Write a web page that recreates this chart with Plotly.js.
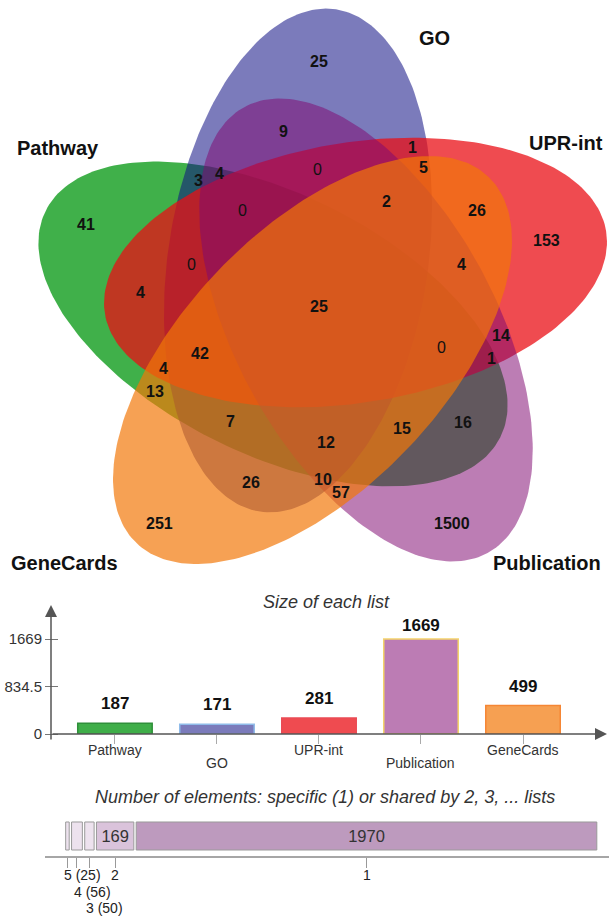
<!DOCTYPE html>
<html><head><meta charset="utf-8">
<script src="https://cdn.plot.ly/plotly-3.0.1.min.js"></script>
<style>html,body{margin:0;padding:0;background:#fff}#chart{width:609px;height:918px}</style>
</head><body><div id="chart"></div>
<script>
// ---------------- data ----------------
const listNames = ['Pathway', 'GO', 'UPR-int', 'Publication', 'GeneCards'];
const listSizes = [187, 171, 281, 1669, 499];
const regionCounts = [25, 9, 1, 0, 5, 3, 4, 0, 2, 26, 153, 41, 0, 4, 4, 25, 14, 0, 42, 1, 4, 13, 7, 16, 15, 12, 26, 10, 57, 251, 1500];
const sharedLevels = [5, 4, 3, 2, 1];
const sharedCounts = [25, 56, 50, 169, 1970];

// ---------------- geometry / style (venn panel pixel space) ----------------
const regionX = [319, 283, 412, 317, 423, 198, 219, 242, 386, 477, 546, 86, 191, 461, 140, 319, 501, 441, 200, 491, 163, 155, 230, 463, 402, 326, 251, 323, 341, 159, 452];
const regionY = [61, 131, 147, 169, 167, 180, 173, 210, 201, 210, 240, 224, 264, 264, 292, 306, 335, 347, 353, 358, 368, 391, 421, 422, 428, 442, 482, 479, 492, 523, 523];
const ellCx = [273, 298, 355.5, 366, 312.5];
const ellCy = [324, 260.5, 272.5, 330, 360];
const ellAngle = [26.5, -81.4, -9.4, 61.4, -46.1];
const ellA = 254, ellB = 130;
const setLabelX = [58, 434, 566, 547, 64];
const setLabelY = [148, 38, 143, 563, 563];
const vennFill = ['rgba(64,176,74,1)', 'rgba(15,15,131,0.55)', 'rgba(233,15,21,0.75)', 'rgba(128,9,113,0.53)', 'rgba(242,119,7,0.69)'];
const barFill = ['#3fae49', '#7b7bbb', '#ef4b50', '#bc7cb4', '#f6a052'];
const barEdge = ['#2f8f3a', '#8fbbe9', '#ea4b54', '#f3d36b', '#f58634'];
const sharedFill = ['#ede2ee', '#ede2ee', '#ede2ee', '#dac3db', '#bd9abe'];

const W = 609, H = 918;
const FONT = 'Liberation Sans, Arial, sans-serif';
const px = x => x / W;
const py = y => 1 - y / H;

const traces = [];
// ellipses
for (let i = 0; i < 5; i++) {
  const xs = [], ys = [];
  const th = ellAngle[i] * Math.PI / 180;
  for (let k = 0; k <= 240; k++) {
    const t = 2 * Math.PI * k / 240;
    const u = ellA * Math.cos(t), v = ellB * Math.sin(t);
    xs.push(ellCx[i] + u * Math.cos(th) - v * Math.sin(th));
    ys.push(ellCy[i] + u * Math.sin(th) + v * Math.cos(th));
  }
  traces.push({type: 'scatter', mode: 'lines', x: xs, y: ys, fill: 'toself',
    fillcolor: vennFill[i], line: {width: 0, color: 'rgba(0,0,0,0)'}, hoverinfo: 'skip',
    xaxis: 'x', yaxis: 'y'});
}

// size of each list
const catIdx = listNames.map((_, i) => i);
traces.push({type: 'bar', x: catIdx, y: listSizes, width: 0.73,
  marker: {color: barFill, line: {color: barEdge, width: 1.5}},
  xaxis: 'x2', yaxis: 'y2', hoverinfo: 'skip'});

// shared elements stacked bar
const starts = [];
let acc = 0;
sharedCounts.forEach(c => { starts.push(acc); acc += c; });
const total = acc;
const gap = 10;
const centers = sharedCounts.map((c, i) => starts[i] + c / 2);
traces.push({type: 'bar', orientation: 'h', y: sharedCounts.map(() => 0),
  x: sharedCounts.map(c => c - gap), base: starts.map(s => s + gap / 2), width: 0.667,
  marker: {color: sharedFill, line: {color: '#9a9a9a', width: 1}},
  text: sharedCounts.map(c => c > 100 ? String(c) : ''), textposition: 'inside',
  insidetextanchor: 'middle', textfont: {family: FONT, size: 16.5, color: '#333'},
  xaxis: 'x3', yaxis: 'y3', hoverinfo: 'skip'});

const ann = [];
const txt = (o) => Object.assign({showarrow: false, xanchor: 'center', yanchor: 'middle'}, o);
// venn counts
regionCounts.forEach((c, i) => {
  ann.push(txt({xref: 'x', yref: 'y', x: regionX[i], y: regionY[i],
    text: c === 0 ? '0' : '<b>' + c + '</b>', font: {family: FONT, size: 16, color: '#111'}}));
});
listNames.forEach((n, i) => {
  ann.push(txt({xref: 'x', yref: 'y', x: setLabelX[i], y: setLabelY[i],
    text: '<b>' + n + '</b>', font: {family: FONT, size: 20, color: '#111'}}));
});
// bar values
const maxSize = Math.max(...listSizes);
listSizes.forEach((v, i) => {
  ann.push(txt({xref: 'x2', yref: 'y2', x: i, y: v, yanchor: 'bottom', yshift: v === maxSize ? 2 : 8,
    text: '<b>' + v + '</b>', font: {family: FONT, size: 17, color: '#111'}}));
});
// category labels (staggered)
listNames.forEach((n, i) => {
  ann.push(txt({xref: 'x2', yref: 'paper', x: i, y: py(i % 2 === 1 ? 763 : 750),
    text: n, font: {family: FONT, size: 14, color: '#333'}}));
});
// titles
ann.push(txt({xref: 'paper', yref: 'paper', x: px(326), y: py(602),
  text: '<i>Size of each list</i>', font: {family: FONT, size: 18, color: '#333'}}));
ann.push(txt({xref: 'paper', yref: 'paper', x: px(325), y: py(797),
  text: '<i>Number of elements: specific (1) or shared by 2, 3, ... lists</i>', font: {family: FONT, size: 18, color: '#333'}}));
// axis arrows
ann.push({xref: 'paper', yref: 'paper', x: px(51), y: py(605), ax: 0, ay: 136, text: '', showarrow: true,
  arrowhead: 2, arrowsize: 1.6, arrowwidth: 1.5, arrowcolor: '#555'});
ann.push({xref: 'paper', yref: 'paper', x: px(607), y: py(734), ax: -556, ay: 0, text: '', showarrow: true,
  arrowhead: 2, arrowsize: 1.6, arrowwidth: 1.5, arrowcolor: '#555'});
// shared level labels
const levelRowY = {5: 875, 4: 892, 3: 908, 2: 875, 1: 875};
sharedLevels.forEach((lv, i) => {
  const lbl = lv >= 3 ? lv + ' (' + sharedCounts[i] + ')' : String(lv);
  ann.push(txt({xref: 'x3', yref: 'paper', x: centers[i], y: py(levelRowY[lv]),
    xanchor: lv >= 3 ? 'left' : 'center', xshift: lv >= 3 ? -5 : 0,
    text: lbl, font: {family: FONT, size: 14, color: '#222'}}));
});

const layout = {
  width: W, height: H, margin: {l: 0, r: 0, t: 0, b: 0},
  paper_bgcolor: '#fff', plot_bgcolor: 'rgba(0,0,0,0)', showlegend: false, barmode: 'overlay',
  xaxis: {domain: [0, 1], range: [0, W], visible: false, fixedrange: true},
  yaxis: {domain: [py(590), 1], range: [590, 0], visible: false, fixedrange: true},
  xaxis2: {domain: [px(51), px(604)], range: [-0.627, 4.794], anchor: 'y2',
    tickvals: catIdx, showticklabels: false,
    ticks: 'outside', ticklen: 9, tickcolor: '#aaa', tickwidth: 1,
    showgrid: false, zeroline: false, showline: false},
  yaxis2: {domain: [py(734), py(608)], range: [0, 1669 * 126 / 95], anchor: 'free', position: px(58),
    tickvals: [0, 834.5, 1669], ticktext: ['0', '834.5', '1669'], ticks: 'outside', ticklen: 13,
    tickcolor: '#777', tickfont: {family: FONT, size: 15, color: '#333'},
    showgrid: false, zeroline: false, showline: false},
  xaxis3: {domain: [px(64.5), px(598)], range: [0, total], anchor: 'y3',
    tickvals: centers, ticks: 'outside', ticklen: 10, tickcolor: '#999', showticklabels: false,
    showgrid: false, zeroline: false, showline: false},
  yaxis3: {domain: [py(857), py(815)], range: [-0.5, 0.5], visible: false},
  shapes: [{type: 'line', xref: 'paper', yref: 'paper', x0: px(45), x1: px(609), y0: py(857), y1: py(857),
    line: {color: '#888', width: 1.5}}],
  annotations: ann
};
Plotly.newPlot('chart', traces, layout, {staticPlot: true, displayModeBar: false});
</script></body></html>
